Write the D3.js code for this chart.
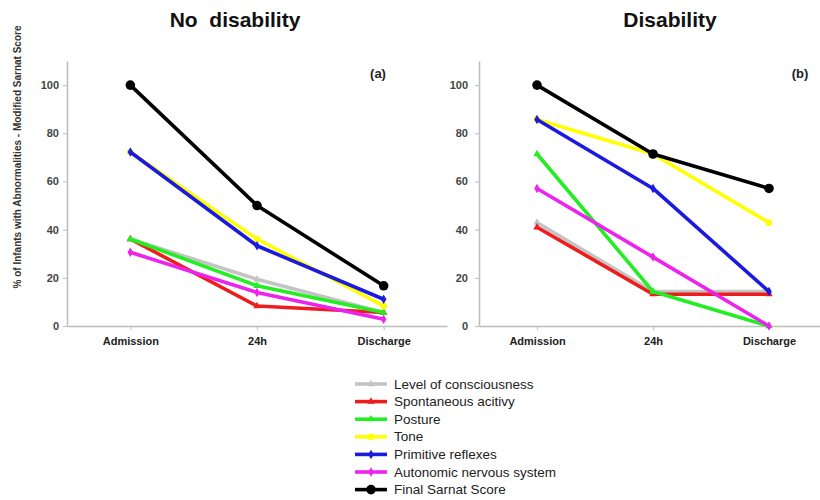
<!DOCTYPE html>
<html><head><meta charset="utf-8">
<script src="https://cdn.jsdelivr.net/npm/d3@7"></script>
<style>
html,body{margin:0;padding:0;background:#fff;}
svg{display:block;font-family:"Liberation Sans",Arial,sans-serif;}
</style></head>
<body>
<svg id="chart" width="820" height="500"></svg>
<script>
const timepoints = ["Admission", "24h", "Discharge"];
const seriesNames = ["Level of consciousness", "Spontaneous acitivy", "Posture", "Tone", "Primitive reflexes", "Autonomic nervous system", "Final Sarnat Score"];
const seriesColors = ["#c4c4c4", "#ee1c1c", "#22ee22", "#ffff00", "#1a1ae0", "#ee22ee", "#000000"];
const seriesSymbols = ["triangle", "triangle", "triangle", "circle", "diamond", "diamond", "bigcircle"];
const panelTitles = ["No  disability", "Disability"];
const panelTags = ["(a)", "(b)"];
const yTicks = [0, 20, 40, 60, 80, 100];
const yLabel = "% of Infants with Abnormalities - Modified Sarnat Score";

// No disability panel (a)
const noDisLOC = [36.1, 19.4, 5.6];
const noDisSpont = [36.1, 8.3, 5.6];
const noDisPosture = [36.1, 16.7, 5.6];
const noDisTone = [72.2, 36.1, 8.3];
const noDisPrim = [72.2, 33.3, 11.1];
const noDisAuto = [30.6, 13.9, 2.8];
const noDisFinal = [100, 50, 16.7];
// Disability panel (b)
const disLOC = [42.9, 14.3, 14.3];
const disSpont = [41.0, 13.2, 13.2];
const disPosture = [71.4, 14.3, 0];
const disTone = [85.7, 71.4, 42.9];
const disPrim = [85.7, 57.1, 14.3];
const disAuto = [57.1, 28.6, 0];
const disFinal = [100, 71.4, 57.1];

const panelData = [
  [noDisLOC, noDisSpont, noDisPosture, noDisTone, noDisPrim, noDisAuto, noDisFinal],
  [disLOC, disSpont, disPosture, disTone, disPrim, disAuto, disFinal]
];

const svg = d3.select("#chart");
const panels = [
  {x0: 67, x1: 447, titleX: 235, tagX: 378},
  {x0: 479, x1: 827, titleX: 670, tagX: 800}
];
const y = d3.scaleLinear().domain([0, 110]).range([326, 61]);

function symbolPath(kind) {
  const map = {
    triangle: d3.symbol().type(d3.symbolTriangle).size(24),
    circle: d3.symbol().type(d3.symbolCircle).size(36),
    diamond: d3.symbol().type(d3.symbolDiamond).size(26),
    bigcircle: d3.symbol().type(d3.symbolCircle).size(72)
  };
  return map[kind]();
}

panels.forEach((p, pi) => {
  const x = d3.scalePoint().domain(timepoints).range([p.x0, p.x1]).padding(0.5);
  const g = svg.append("g");

  // y axis
  const ya = g.append("g").attr("transform", `translate(${p.x0},0)`)
    .call(d3.axisLeft(y).tickValues(yTicks).tickSize(4).tickPadding(pi === 0 ? 4 : 7).tickSizeOuter(0));
  ya.select(".domain").attr("stroke", "#bdbdbd").attr("stroke-width", 1.5);
  ya.selectAll(".tick line").attr("stroke", "#bdbdbd");
  ya.selectAll(".tick text").attr("fill", "#444").attr("font-size", 11).attr("font-weight", "bold")
    .attr("font-family", "'Liberation Sans', Arial, sans-serif");

  // x axis
  const xa = g.append("g").attr("transform", `translate(0,${y(0)})`)
    .call(d3.axisBottom(x).tickSize(4).tickPadding(7).tickSizeOuter(0));
  xa.select(".domain").attr("stroke", "#bdbdbd").attr("stroke-width", 1.5);
  xa.selectAll(".tick line").attr("stroke", "#bdbdbd");
  xa.selectAll(".tick text").attr("fill", "#222").attr("font-size", 11).attr("font-weight", "bold")
    .attr("font-family", "'Liberation Sans', Arial, sans-serif");

  // lines
  const line = d3.line().x((d, i) => x(timepoints[i])).y(d => y(d));
  panelData[pi].forEach((vals, si) => {
    const sg = g.append("g");
    sg.append("path").attr("d", line(vals)).attr("fill", "none")
      .attr("stroke", seriesColors[si]).attr("stroke-width", 3.6).attr("stroke-linejoin", "round");
    sg.selectAll("path.pt").data(vals).enter().append("path").attr("class", "pt")
      .attr("d", symbolPath(seriesSymbols[si]))
      .attr("transform", (d, i) => `translate(${x(timepoints[i])},${y(d)})`)
      .attr("fill", seriesColors[si]);
  });

  // title
  svg.append("text").attr("x", p.titleX).attr("y", 27).attr("text-anchor", "middle")
    .attr("font-size", 21).attr("font-weight", "bold").attr("fill", "#111")
    .style("white-space", "pre").text(panelTitles[pi]);
  svg.append("text").attr("x", p.tagX).attr("y", 78).attr("text-anchor", "middle")
    .attr("font-size", 13).attr("font-weight", "bold").attr("fill", "#222").text(panelTags[pi]);
});

// y label
svg.append("text").attr("transform", "translate(21,157) rotate(-90)").attr("text-anchor", "middle")
  .attr("font-size", 10).attr("font-weight", "bold").attr("fill", "#333").text(yLabel);

// legend
const leg = svg.append("g");
seriesNames.forEach((name, i) => {
  const cy = 384 + i * 17.6;
  leg.append("line").attr("x1", 355).attr("x2", 387).attr("y1", cy).attr("y2", cy)
    .attr("stroke", seriesColors[i]).attr("stroke-width", 3.6);
  leg.append("path").attr("d", symbolPath(seriesSymbols[i]))
    .attr("transform", `translate(371,${cy})`).attr("fill", seriesColors[i]);
  leg.append("text").attr("x", 394).attr("y", cy + 4.5).attr("font-size", 13.5)
    .attr("fill", "#222").text(name);
});
</script>
</body></html>
